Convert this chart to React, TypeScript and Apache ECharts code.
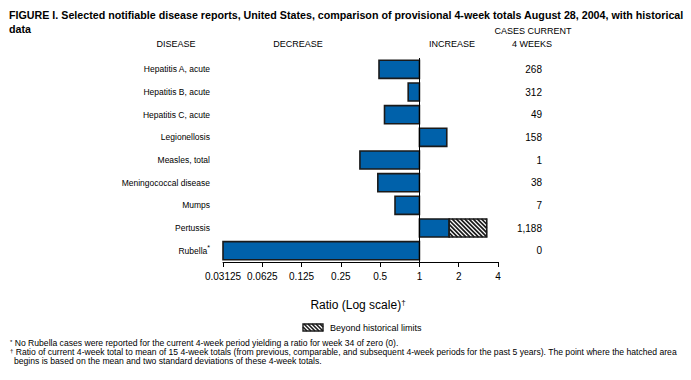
import React, { useEffect, useRef } from "react";
import * as echarts from "echarts";

const categories = [
  "Hepatitis A, acute",
  "Hepatitis B, acute",
  "Hepatitis C, acute",
  "Legionellosis",
  "Measles, total",
  "Meningococcal disease",
  "Mumps",
  "Pertussis",
  "Rubella",
];
const ratios = [0.49, 0.82, 0.54, 1.62, 0.35, 0.48, 0.65, 1.69, 0];
const beyondLimits: (number | null)[] = [null, null, null, null, null, null, null, 3.28, null];
const casesCurrent = ["268", "312", "49", "158", "1", "38", "7", "1,188", "0"];
const tickExponents = [-5, -4, -3, -2, -1, 0, 1, 2];

const X_MIN = tickExponents[0];
const X_MAX = tickExponents[tickExponents.length - 1];
const FONT = "'Liberation Sans', Arial, Helvetica, sans-serif";
const BLUE = "#0061AA";
const EDGE = "#1a1a1a";

function hatchLines(x1: number, x2: number, top: number, bottom: number, step: number, lw: number) {
  const h = bottom - top;
  const out: any[] = [];
  for (let c = x1 - h; c < x2; c += step) {
    const t0 = Math.max(0, x1 - c);
    const t1 = Math.min(h, x2 - c);
    if (t1 <= t0) continue;
    out.push({
      type: "line",
      shape: { x1: c + t0, y1: top + t0, x2: c + t1, y2: top + t1 },
      style: { stroke: EDGE, lineWidth: lw },
    });
  }
  return out;
}

export default function App() {
  const ref = useRef<HTMLDivElement>(null);
  useEffect(() => {
    document.body.style.margin = "0";
    if (!ref.current) return;
    const chart = echarts.init(ref.current, undefined, { renderer: "svg" });
    const data = categories.map((_, i) => [
      Math.max(X_MIN, ratios[i] > 0 ? Math.log2(ratios[i]) : X_MIN),
      i,
      beyondLimits[i] == null ? NaN : Math.log2(beyondLimits[i] as number),
    ]);

    const legendHatch = hatchLines(303, 323, 324, 331, 4, 1.6);
    const footStyle = { verticalAlign: "middle", fontFamily: FONT, fontSize: 8.6, fill: "#000" };
    const supRich = { sup: { fontSize: 6, verticalAlign: "top", fontFamily: FONT, fill: "#000" } };

    chart.setOption({
      animation: false,
      title: {
        text:
          "FIGURE I. Selected notifiable disease reports, United States, comparison of provisional 4-week totals August 28, 2004, with historical\ndata",
        left: 4,
        top: 3,
        textStyle: { fontFamily: FONT, fontWeight: "bold", fontSize: 10.7, lineHeight: 14, color: "#000" },
      },
      grid: { left: 223, right: 193, top: 58, bottom: 118 },
      xAxis: {
        type: "value",
        min: X_MIN,
        max: X_MAX,
        interval: 1,
        axisLine: { show: true, lineStyle: { color: "#000", width: 1 } },
        axisTick: { show: true, length: 5, lineStyle: { color: "#000" } },
        splitLine: { show: false },
        axisLabel: {
          margin: 9,
          fontFamily: FONT,
          fontSize: 10,
          color: "#000",
          formatter: (v: number) => String(Math.pow(2, v)),
        },
      },
      yAxis: [
        {
          type: "category",
          data: categories,
          inverse: true,
          axisLine: { show: false },
          axisTick: { show: false },
          axisLabel: {
            margin: 13,
            fontFamily: FONT,
            fontSize: 8.5,
            color: "#000",
            formatter: (v: string) => (v === "Rubella" ? "Rubella{sup|*}" : v),
            rich: { sup: { fontSize: 7, verticalAlign: "top", padding: [0, 0, 6, 0], fontFamily: FONT, color: "#000" } },
          },
        },
        {
          type: "category",
          data: casesCurrent,
          inverse: true,
          position: "right",
          axisLine: { show: false },
          axisTick: { show: false },
          axisLabel: { margin: 44, align: "right", fontFamily: FONT, fontSize: 10, color: "#000" },
        },
      ],
      series: [
        {
          type: "custom",
          data,
          encode: { x: 0, y: 1 },
          clip: false,
          renderItem: (params: any, api: any) => {
            const v = api.value(0);
            const idx = api.value(1);
            const hv = api.value(2);
            const p0 = api.coord([0, idx]);
            const p1 = api.coord([v, idx]);
            const bh = api.size([0, 1])[1] * 0.8;
            const top = p0[1] - bh / 2;
            const x1 = Math.min(p0[0], p1[0]);
            const x2 = Math.max(p0[0], p1[0]);
            const children: any[] = [
              {
                type: "rect",
                shape: { x: x1, y: top, width: x2 - x1, height: bh },
                style: { fill: BLUE, stroke: EDGE, lineWidth: 1.6 },
              },
            ];
            if (!isNaN(hv)) {
              const p2 = api.coord([hv, idx]);
              children.push({
                type: "rect",
                shape: { x: x2, y: top, width: p2[0] - x2, height: bh },
                style: { fill: "#fff", stroke: "none" },
              });
              children.push(...hatchLines(x2, p2[0], top, top + bh, 4.2, 1.7));
              children.push({
                type: "rect",
                shape: { x: x2, y: top, width: p2[0] - x2, height: bh },
                style: { fill: "none", stroke: EDGE, lineWidth: 1.6 },
              });
            }
            return { type: "group", children };
          },
          markLine: {
            silent: true,
            symbol: ["none", "none"],
            label: { show: false },
            lineStyle: { color: "#000", width: 1, type: "solid" },
            data: [{ xAxis: 0 }],
          },
        },
      ],
      graphic: [
        { type: "text", x: 176, y: 44, style: { text: "DISEASE", align: "center", verticalAlign: "middle", fontFamily: FONT, fontSize: 9, fill: "#000" } },
        { type: "text", x: 298, y: 44, style: { text: "DECREASE", align: "center", verticalAlign: "middle", fontFamily: FONT, fontSize: 9, fill: "#000" } },
        { type: "text", x: 452, y: 44, style: { text: "INCREASE", align: "center", verticalAlign: "middle", fontFamily: FONT, fontSize: 9, fill: "#000" } },
        { type: "text", x: 533, y: 31, style: { text: "CASES CURRENT", align: "center", verticalAlign: "middle", fontFamily: FONT, fontSize: 9, fill: "#000" } },
        { type: "text", x: 532, y: 44, style: { text: "4 WEEKS", align: "center", verticalAlign: "middle", fontFamily: FONT, fontSize: 9, fill: "#000" } },
        {
          type: "text",
          x: 358,
          y: 305,
          style: {
            text: "Ratio (Log scale){sup|†}",
            align: "center",
            verticalAlign: "middle",
            fontFamily: FONT,
            fontSize: 12,
            fill: "#000",
            rich: { sup: { fontSize: 8, verticalAlign: "top", padding: [0, 0, 6, 0], fontFamily: FONT, fill: "#000" } },
          },
        },
        { type: "rect", shape: { x: 303, y: 324, width: 20, height: 7 }, style: { fill: "#fff" } },
        ...legendHatch,
        { type: "rect", shape: { x: 303, y: 324, width: 20, height: 7 }, style: { fill: "none", stroke: EDGE, lineWidth: 1.4 } },
        { type: "text", x: 330, y: 327.5, style: { text: "Beyond historical limits", verticalAlign: "middle", fontFamily: FONT, fontSize: 9, fill: "#000" } },
        {
          type: "text",
          x: 10,
          y: 343,
          style: { ...footStyle, text: "{sup|*} No Rubella cases were reported for the current 4-week period yielding a ratio for week 34 of zero (0).", rich: supRich },
        },
        {
          type: "text",
          x: 10,
          y: 352,
          style: { ...footStyle, text: "{sup|†} Ratio of current 4-week total to mean of 15 4-week totals (from previous, comparable, and subsequent 4-week periods for the past 5 years). The point where the hatched area", rich: supRich },
        },
        {
          type: "text",
          x: 14,
          y: 361,
          style: { ...footStyle, text: "begins is based on the mean and two standard deviations of these 4-week totals." },
        },
      ],
    });
    return () => chart.dispose();
  }, []);
  return <div ref={ref} style={{ width: 691, height: 380 }} />;
}
